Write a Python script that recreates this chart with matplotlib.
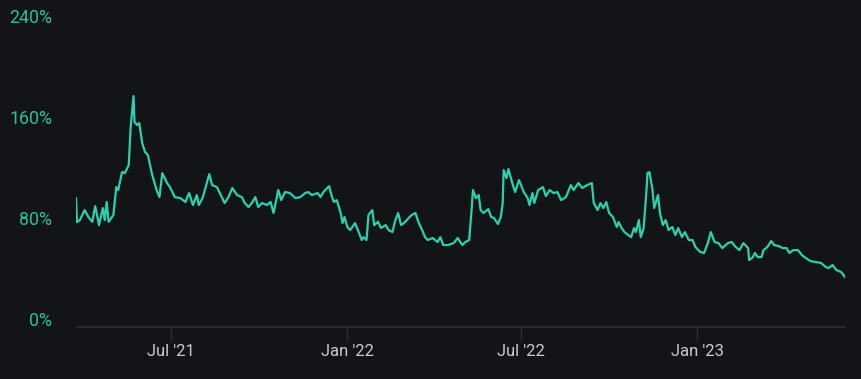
import matplotlib.pyplot as plt
import matplotlib.dates as mdates
import numpy as np
import pandas as pd

plt.rcParams['font.family'] = ['Roboto', 'DejaVu Sans']

# observation dates, as days since the first observation
start_date = '2021-03-24'
day_offsets = [
    0, 1, 4, 9, 13, 17, 20, 24, 28, 30, 32, 34, 39, 42, 44, 48, 51, 55, 57, 60,
    61, 64, 66, 69, 72, 75, 79, 84, 87, 90, 95, 98, 103, 109, 114, 118, 122, 126, 128,
    132, 135, 139, 142, 147, 150, 155, 159, 163, 168, 173, 176, 180, 184, 187, 190,
    194, 199, 203, 206, 211, 214, 218, 223, 229, 234, 239, 242, 246, 252, 255, 258,
    260, 264, 267, 269, 272, 276, 278, 280, 283, 286, 291, 294, 298, 300, 303, 305,
    309, 311, 315, 318, 323, 326, 330, 333, 336, 339, 342, 347, 350, 354, 357, 361,
    364, 367, 372, 377, 380, 383, 388, 394, 398,
    403, 406, 410, 412, 414, 417, 420, 422, 425, 430, 433, 436, 440, 443, 445, 446,
    449, 451, 455, 458, 462, 467, 471, 473, 476, 478, 482, 487, 490, 494, 498, 502,
    506, 511, 516, 519, 524, 528, 533,
    538, 540, 544, 547, 550, 553, 556, 560, 564, 566, 569, 572, 576, 579, 582, 584,
    587, 589, 592, 595, 596, 598, 601, 603, 607, 609, 612, 615, 618, 622, 625, 628,
    632, 635, 639, 643, 646, 651, 655, 659, 662, 666,
    670, 674, 680, 684, 688, 692, 696, 701, 702, 706, 708, 711, 715, 717, 721, 725,
    728, 733, 737, 741, 744, 748, 753, 757, 761, 766, 772, 777, 782, 785, 789, 793,
    798, 802,
]
# percentage values
values = [
    95.8, 76.8, 78.4, 86.3, 80.8, 77.0, 89.5, 74.4, 87.9, 78.4, 92.7, 77.0, 82.4, 104.5,
    102.2, 116.4, 115.6, 122.0, 152.0, 176.6,
    156.0, 153.6, 155.2, 139.4, 132.3, 129.9, 115.6, 102.2, 96.6, 115.6, 107.7, 104.5,
    96.6, 95.8, 92.7, 99.8, 90.3, 98.2, 90.3,
    95.8, 103.8, 114.8, 106.1, 104.5, 99.8, 91.9, 96.6, 103.8, 98.2, 96.6, 91.9, 88.7,
    92.7, 96.6, 88.7, 91.9, 90.3, 92.7, 84.0, 102.2, 94.2, 100.6, 99.8, 95.8, 96.6,
    99.8, 100.6, 98.2, 99.8, 96.6, 100.6,
    102.2, 105.3, 96.6, 92.7, 94.2, 84.0, 76.0, 80.8, 72.9, 70.5, 76.0, 70.5, 62.6, 64.9,
    62.6, 82.4, 86.3, 74.4, 77.0, 72.1, 74.4, 70.5, 68.9, 78.4, 84.0, 74.4, 76.0, 80.0,
    82.4, 84.0, 77.0, 70.5, 64.9, 62.6, 64.2, 61.0, 64.9, 58.6, 58.6, 60.2, 64.2,
    58.6, 61.0, 62.6, 80.8, 102.2, 95.8, 98.2, 86.3, 84.0, 87.1, 80.8, 80.0, 75.2, 80.8,
    91.9, 118.0, 111.7, 118.8, 107.7, 100.6, 110.1, 100.6, 95.8, 90.3, 99.8, 91.9, 102.2,
    104.5, 97.4, 102.2, 99.8, 100.6, 94.2, 96.6, 106.1, 102.2, 107.7, 103.8, 106.1,
    107.7, 91.9, 86.3, 91.9, 87.9, 92.7, 84.0, 80.8, 72.9, 76.8, 72.1, 68.9, 66.5, 64.9,
    72.1, 68.9, 78.4, 64.9, 72.1, 102.2, 115.6, 116.4, 103.8, 87.9, 98.2, 84.0, 74.4,
    78.4, 70.5, 72.9, 66.5, 72.1, 64.9, 68.9, 62.6, 62.6, 57.0, 53.1, 52.3, 60.2, 68.9,
    61.0,
    60.2, 56.2, 60.2, 61.0, 57.0, 54.6, 60.2, 56.2, 46.7, 49.1, 52.3, 49.1, 49.1, 54.6,
    57.0, 61.8, 58.6, 57.8, 56.2, 56.2, 52.3, 54.6, 54.6, 50.7, 48.3, 45.9, 45.1, 44.4,
    41.2, 40.4, 42.8, 38.8, 37.2, 33.3,
]
y_ticks = [0, 80, 160, 240]
x_ticks = ['2021-07-01', '2022-01-01', '2022-07-01', '2023-01-01']

BG = '#131417'
LINE = '#2bd1ad'
YTXT = '#2cbf9c'
XTXT = '#c9cbcf'
AXIS = '#2c2e33'


def main():
    dates = pd.Timestamp(start_date) + pd.to_timedelta(day_offsets, unit='D')

    fig = plt.figure(figsize=(8.61, 3.79), dpi=100, facecolor=BG)
    ax = fig.add_axes([76 / 861, 52 / 379, 769 / 861, 327 / 379])
    ax.set_facecolor(BG)

    ax.plot(dates, values, color=LINE, lw=1.6, solid_joinstyle='round')

    ax.set_xlim(dates[0], dates[-1])
    ax.set_ylim(-6.3, 252.7)

    for s in ['top', 'right', 'left']:
        ax.spines[s].set_visible(False)
    ax.spines['bottom'].set_color(AXIS)
    ax.spines['bottom'].set_linewidth(1.2)

    ax.set_yticks(y_ticks)
    ax.set_yticklabels([f'{v}%' for v in y_ticks])
    ax.tick_params(axis='y', length=0, pad=17, labelsize=12.8, labelcolor=YTXT)

    ax.set_xticks(pd.to_datetime(x_ticks))
    ax.xaxis.set_major_formatter(mdates.DateFormatter("%b '%y"))
    ax.tick_params(axis='x', length=10, width=1, color=AXIS, pad=2.5,
                   labelsize=12, labelcolor=XTXT)

    fig.savefig('out.png', dpi=100, facecolor=BG)
    plt.close(fig)


if __name__ == '__main__':
    main()
